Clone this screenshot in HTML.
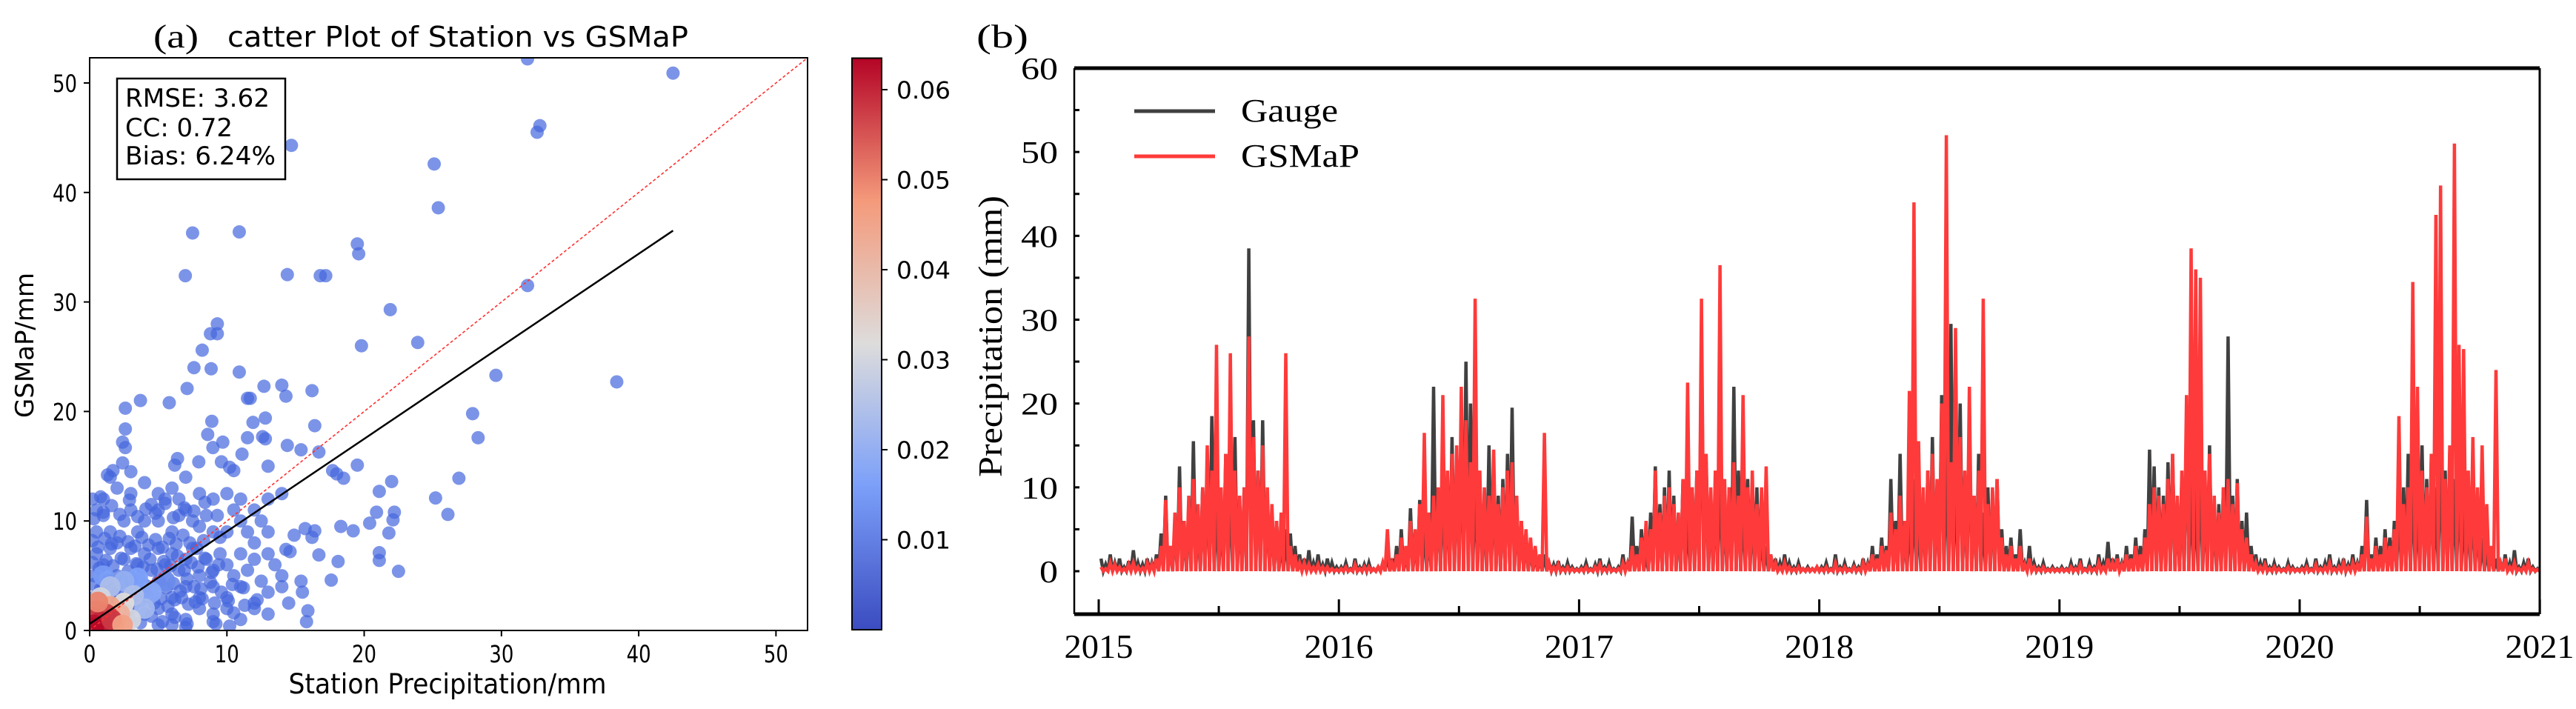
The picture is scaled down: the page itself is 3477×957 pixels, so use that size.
<!DOCTYPE html>
<html><head><meta charset="utf-8"><style>
html,body{margin:0;padding:0;background:#fff;}
svg{display:block;}
</style></head><body>
<svg id="fig" xmlns="http://www.w3.org/2000/svg" width="3477" height="957" viewBox="0 0 3477 957">
<defs>
<linearGradient id="cmap" x1="0" y1="1" x2="0" y2="0">
<stop offset="0" stop-color="#3b4cc0"/><stop offset="0.25" stop-color="#7b9ff9"/><stop offset="0.5" stop-color="#dddcdc"/><stop offset="0.75" stop-color="#f49a7b"/><stop offset="1" stop-color="#b40426"/>
</linearGradient>
<clipPath id="clipA"><rect x="121" y="78" width="969" height="773"/></clipPath>
<clipPath id="clipB"><rect x="1450" y="92" width="1978" height="737"/></clipPath>
</defs>
<rect width="3477" height="957" fill="#fff"/>
<g id="panelA"></g>
<g id="panelB"></g>
</svg>
<script>
// ---------- Panel (a) data ----------
const stationVals = [31.9,42.5,32.8,32.6,14.7,25.1,25.4,7.5,10.9,19.5,19.6,6.97,14.4,16.8,17.2,31.9,21.9,9.3,8.8,9.3,23.9,19.8,8.2,7.6,8.85,10.9,29.6,38.4,14.0,12.7,7.1,16.2,14.3,11.5,11.7,3.7,5.8,2.6,27.9,28.3,12.8,8.9,11.9,16.4,2.6,8.6,11.5,12.6,12.8,2.4,9.7,14.4,2.6,8.98,15.4,16.7,11.1,7.95,9.6,19.5,6.4,6.2,10.2,10.5,13.0,26.9,22.0,17.7,18.0,18.5,2.4,1.7,1.3,25.2,21.1,26.1,22.2,22.1,20.9,20.4,18.3,19.2,21.8,21.1,21.1,22.5,18.1,16.7,17.6,0.2,15.8,15.9,15.5,15.4,16.4,16.2,15.7,14.9,14.6,14.3,10.2,9.2,10.5,
0.5,1,1.5,2,2.5,3,3.5,4,4.5,5,5.5,6,6.5,7,7.5,8,8.5,9,9.5,10,10.5,11,11.5,12,12.5,13,
0.5,1,1.5,2,2.5,3,3.5,4,4.5,5,5.5,6,6.5,7,7.5,8,8.5,9,9.5,10,10.5,11,11.5,12,12.5,13,13.5,14,
1,2,3,4,5,6,7,8,9,10,11,12,13,14,14.5,3,4,5,6,7,8,9,10,11,12,13,5,7,9,6,
1,2,3,4,5,6,7,8,9,10,11,12,13,14,1.5,3,5,6.5,0.3,0.3,0.5,0.8,
0.2,0.6,1.1,1.6,2.2,2.8,3.3,3.8,4.3,4.8,5.3,5.8,6.3,6.8,7.3,7.8,8.3,
0.2,0.7,1.2,1.7,2.3,2.8,3.4,3.9,4.4,4.9,5.4,5.9,6.4,6.9,7.4,7.9,8.4,8.9,9.4,
0.3,0.8,1.3,1.9,2.4,3.1,3.6,4.1,4.6,5.1,5.6,6.1,6.6,7.1,7.6,8.1,8.8,9.6,10.4,11.2,
0.4,0.9,1.4,2.1,2.7,3.2,3.7,4.2,4.7,5.2,5.7,6.2,6.7,7.2,7.7,8.2,9.1,10.1,11.3,12.2,
0.3,1,1.6,2.2,2.9,3.5,4.1,4.8,5.5,6.1,6.9,7.6,8.4,9.3,
0.2,0.9,1.5,2.2,2.9,3.7,4.5,5.3,6.2,7.1];
const gsmapVals = [52.2,50.9,46.1,45.5,44.3,42.6,38.6,36.3,36.4,35.3,34.4,32.4,32.5,32.4,32.4,31.5,29.3,28.0,27.1,27.1,26.3,26.0,25.6,24.0,23.9,23.6,23.3,22.7,22.4,22.3,22.1,21.9,21.4,21.2,21.2,21.0,20.8,20.3,19.8,17.6,19.4,19.1,19.0,18.7,18.4,17.9,17.6,17.7,17.5,17.2,17.2,16.9,16.7,16.7,16.5,16.3,16.1,15.4,15.4,15.1,15.7,15.1,14.9,14.6,15.0,13.9,13.6,14.6,14.3,13.9,15.3,14.6,14.2,12.1,12.7,10.6,10.8,10.1,10.8,9.8,9.5,9.1,8.9,7.1,6.4,5.4,6.3,6.9,4.6,12.0,0.8,1.8,3.5,4.5,9.1,8.5,9.3,8.7,7.2,7.4,0.4,0.6,1.6,
9,10.5,9,8,10,11,9,10,11.5,10,12,9,10.5,11,10,9.5,10.5,9,8.5,9,11,10,9,8,10,9,
7,6,7.5,5,6.5,7.5,6,7,5.5,7.5,6,7,5.5,6.5,7.5,5,6.5,5.5,7,6,5,7,5.5,6.5,4.5,7,6,5,
4,3.5,4.5,3.5,4.5,3,4,3,4,3,4,2.5,3.5,4,2.5,2,1.5,2,1.5,1,2,1.5,2,1,2,1.5,0.5,0.3,0.8,0.5,
12,13,12.5,13.5,12.5,13,14,12.5,12,12.5,12,11,12,12.5,14,14.5,11,12,5,3,11,12.2,
8.2,7.6,8.4,7.9,8.6,8.1,7.7,8.5,7.8,8.3,7.6,8.4,7.9,8.7,8.0,7.5,8.2,
6.2,5.7,6.4,5.9,6.6,5.4,6.1,5.8,6.5,5.6,6.3,5.9,6.8,5.5,6.2,5.8,6.6,5.3,6.0,
4.2,3.8,4.6,3.9,4.4,3.6,4.8,4.1,3.7,4.5,3.9,4.3,3.6,4.7,4.0,3.8,4.4,3.5,4.2,3.9,
2.4,2.8,3.0,2.6,2.9,2.3,2.7,3.1,2.5,2.9,2.2,2.8,3.0,2.4,2.6,2.9,2.5,2.7,2.3,2.8,
10.2,10.8,11.4,10.6,11.9,10.4,11.1,10.7,11.6,10.3,11.2,10.9,11.7,10.5,
1.2,0.8,1.4,0.9,1.1,0.7,1.3,0.8,1.2,0.6];
// high-density points near origin (station, gsmap, density)
const denseStation = [5.5,1.0,3.5,4.5,2.5,4,3.2,1.5,0.8,3,2.5,2.2,1.5,1.8,0.5,1.2,0.2,1,0.8,0.3,0.3,1.6,2.4,0.6];
const denseGsmap   = [4.5,5.0,4.8,3.5,4.5,2,3.2,4,3,1,2.5,1.5,2.2,0.6,1.8,1.5,1.2,0.3,0.8,0.5,0.2,1.0,0.5,2.6];
const denseValue   = [0.012,0.015,0.016,0.018,0.02,0.022,0.024,0.024,0.03,0.03,0.032,0.042,0.045,0.05,0.052,0.056,0.058,0.06,0.06,0.062,0.063,0.058,0.046,0.05];
const statsLines = ["RMSE: 3.62","CC: 0.72","Bias: 6.24%"];
const axisTicksA = [0,10,20,30,40,50];
const cbarTicks = [0.01,0.02,0.03,0.04,0.05,0.06];
const fitLine = [0.6, 0.845]; // intercept, slope
const fitXmax = 42.5;

// ---------- Panel (b) data (weekly values) ----------
const years = [2015,2016,2017,2018,2019,2020];
const gauge2015=[1.5,0.8,2,1,1.5,0.5,1.2,2.5,1,0.8,1.5,1,2,4.5,9,3,6,12.5,5,8,15.5,6,10,12,18.5,9,7,14,11,16,8,10,38.5,18,12,18,9,7,6,4,5,4.5,3,2,1.5,2.5,1,2,0.8,1.5,1,0.5];
const gsmap2015=[0.5,0.3,1,0.8,0.5,0.3,0.8,1,0.5,0.4,1,0.8,1.5,3,8.5,3,7,10,6,9,11,8,10,15,12,27,10,14,26,12,9,10,28,16,12,15,10,8,6,7,26,3,2,1,1,0.8,0.5,0.8,0.5,0.5,0.3,0.2];
const gauge2016=[0.5,1,0.3,1.5,0.5,0.8,1,0.3,0.5,1,2,1.5,3,5,2,7.5,4,8.5,6,5,22,9,12,10,16,14,18,25,20,13,11,8,15,12,9,11,14,19.5,8,6,4,3,2,1.5,2,1,0.8,1.2,0.5,1,0.5,0.3];
const gsmap2016=[0.3,0.5,0.2,0.8,0.3,0.5,0.5,0.3,0.5,1,5,1,2,4,3,6,5,8,16.5,7,9,10,21,12,14,15,22,18,13,32.5,12,10,9,14.5,8,10,12,13,9,6,5,4,3,2,16.5,1,0.5,0.8,0.3,0.5,0.3,0.2];
const gauge2017=[0.5,1,0.3,0.8,1.5,0.5,1,0.3,0.5,2,1,6.5,3,5,2,7,12.5,8,10,12,9,6,11,8,10,12,28,13,9,10,14,8,10,22,12,9,11,8,10,5,3,2,1.5,1,2,1,0.5,1,0.3,0.5,0.3,0.5];
const gsmap2017=[0.3,0.5,0.2,0.5,0.8,0.3,0.5,0.2,0.3,1,1,3,2,4,6,5,12,7,9,10,8,7,11,22.5,10,12,32.5,14,10,12,36.5,11,10,13,9,21,10,12,8,10,12.5,2,1,0.5,1,0.5,0.3,0.5,0.3,0.3,0.3,0.5];
const gauge2018=[0.5,1,0.3,2,0.5,1,0.3,0.8,0.5,1.5,1,3,2,4,3,11,6,14,5,8,11,7,9,12,16,10,21,15,29.5,13,20,10,18,9,14,7,10,9,11,5,3,4,2,5,1,3,1,0.5,1,0.3,0.5,0.3];
const gsmap2018=[0.3,0.5,0.2,1,0.3,0.5,0.2,0.5,0.3,1,0.8,2,1.5,3,2.5,7,5,9,6,21.5,44,15.5,10,12,14,11,20,52,13,29,16,12,22,9,12,32.5,8,10,11,4,2,3,1.5,3,0.8,1.5,0.5,0.3,0.5,0.2,0.3,0.2];
const gauge2019=[0.5,0.3,1,0.5,1.5,0.3,1,0.5,2,1,3.5,1.5,2,1,3,2,4,3,5,14.5,12.5,10,9,13,14,8,11,18,12,10,13,9,15,7,8,10,28,9,11,6,7,3,2,1,1.5,0.5,1,0.5,0.3,1,0.5,0.3];
const gsmap2019=[0.3,0.2,0.5,0.3,0.8,0.2,0.5,0.3,1,0.5,1.5,1,1.5,0.8,2,1.5,3,2,4,8,10,9,8,11,14,9,12,21,38.5,36,35,12,14,9,7,10,11,8,10.5,5,4,2,1,0.5,0.8,0.3,0.5,0.3,0.2,0.5,0.3,0.2];
const gauge2020=[0.5,1,0.3,1.5,0.5,1,2,0.5,1,1.5,0.8,2,1,3,8.5,2,4,3,5,4,6,9,10,14,12,9,15,11,13,10,17,12,14,11,13,9,8,10,7,4,3,2.5,1.5,1,2,1,2.5,0.5,1,1.5,0.5,0.3];
const gsmap2020=[0.3,0.5,0.2,0.8,0.3,0.5,1,0.3,0.5,1,0.5,1,0.8,2,6.5,1.5,3,2,4,3,5,18.5,8,10,34.5,22,12,10,14,42.5,46,11,15,51,27,26.5,12,16,10,15,8,3,24,1,1.5,0.5,1,0.3,0.5,1,0.3,0.2];
const yTicksB = [0,10,20,30,40,50,60];
const xTicksB = [2015,2016,2017,2018,2019,2020,2021];
const legendLabels = ["Gauge","GSMaP"];

const NS="http://www.w3.org/2000/svg";
function mk(tag,attrs,parent){const e=document.createElementNS(NS,tag);for(const k in attrs)e.setAttribute(k,attrs[k]);if(parent)parent.appendChild(e);return e;}
function txt(parent,s,attrs){const t=mk('text',attrs,parent);t.textContent=s;return t;}

const cstops=[[0,[59,76,192]],[0.25,[123,159,249]],[0.5,[221,220,220]],[0.75,[244,154,123]],[1,[180,4,38]]];
function cw(t){t=Math.max(0,Math.min(1,t));for(let i=1;i<cstops.length;i++){if(t<=cstops[i][0]){const a=cstops[i-1],b=cstops[i];const f=(t-a[0])/(b[0]-a[0]);return 'rgb('+a[1].map((v,j)=>Math.round(v+(b[1][j]-v)*f)).join(',')+')';}}return 'rgb(180,4,38)';}

// ---------- Panel A ----------
const A=document.getElementById('panelA');
const ax0=121, ax1=1090, ay0=851, ay1=78, amax=52.3;
const sx=v=>ax0+(v/amax)*(ax1-ax0);
const sy=v=>ay0-(v/amax)*(ay0-ay1);
const gA=mk('g',{'clip-path':'url(#clipA)'},A);


for(let i=0;i<stationVals.length;i++){
  const c=mk('circle',{cx:sx(stationVals[i]),cy:sy(gsmapVals[i]),r:9,fill:'#4466dd','fill-opacity':0.7},gA);
  
  
}
for(let i=0;i<denseStation.length;i++){
  const c=mk('circle',{cx:sx(denseStation[i]),cy:sy(denseGsmap[i]),r:14,fill:cw(denseValue[i]/0.0635),'fill-opacity':0.95},gA);
  
  
}
const one=mk('line',{x1:sx(0),y1:sy(0),x2:sx(amax),y2:sy(amax),stroke:'#ff3030','stroke-width':1.6,'stroke-dasharray':'4,3'},gA);


const fit=mk('line',{x1:sx(0),y1:sy(fitLine[0]),x2:sx(fitXmax),y2:sy(fitLine[0]+fitLine[1]*fitXmax),stroke:'#000','stroke-width':2.5},gA);


const frA=mk('rect',{x:ax0,y:ay1,width:ax1-ax0,height:ay0-ay1,fill:'none',stroke:'#000','stroke-width':2},A);


axisTicksA.forEach(v=>{
  mk('line',{x1:sx(v),y1:ay0,x2:sx(v),y2:ay0+8,stroke:'#000','stroke-width':2},A);
  const t=txt(A,String(v),{x:sx(v),y:894,'font-family':'DejaVu Sans, sans-serif','font-size':32,'text-anchor':'middle',textLength:v?33:17,lengthAdjust:'spacingAndGlyphs'});
  
  
  mk('line',{x1:ax0-8,y1:sy(v),x2:ax0,y2:sy(v),stroke:'#000','stroke-width':2},A);
  const u=txt(A,String(v),{x:104,y:sy(v)+12,'font-family':'DejaVu Sans, sans-serif','font-size':32,'text-anchor':'end',textLength:v?33:17,lengthAdjust:'spacingAndGlyphs'});
  
  
});
const sb=mk('rect',{x:158,y:106,width:227,height:136,fill:'#fff',stroke:'#000','stroke-width':2.5},A);


const sLen=[195,145,203], sBase=[144,184,222];
statsLines.forEach((s,i)=>{const t=txt(A,s,{x:169,y:sBase[i],'font-family':'DejaVu Sans, sans-serif','font-size':34,textLength:sLen[i],lengthAdjust:'spacingAndGlyphs'});
  
  });
let t=txt(A,'(a)',{x:207,y:64,'font-family':'Liberation Serif, serif','font-size':44,textLength:61,lengthAdjust:'spacingAndGlyphs'});


t=txt(A,'catter Plot of Station vs GSMaP',{x:307,y:63,'font-family':'DejaVu Sans, sans-serif','font-size':38,textLength:622,lengthAdjust:'spacingAndGlyphs'});


t=txt(A,'Station Precipitation/mm',{x:604,y:936,'font-family':'DejaVu Sans, sans-serif','font-size':37,'text-anchor':'middle',textLength:429,lengthAdjust:'spacingAndGlyphs'});


t=txt(A,'GSMaP/mm',{x:0,y:0,'font-family':'DejaVu Sans, sans-serif','font-size':34,'text-anchor':'middle',textLength:196,lengthAdjust:'spacingAndGlyphs',transform:'translate(45,466) rotate(-90)'});


const cb=mk('rect',{x:1150,y:78.5,width:40,height:771.5,fill:'url(#cmap)',stroke:'#000','stroke-width':2},A);


const cby=v=>850-(v/0.0635)*(850-78.5);
cbarTicks.forEach(v=>{
  mk('line',{x1:1190,y1:cby(v),x2:1198,y2:cby(v),stroke:'#000','stroke-width':2},A);
  const l=txt(A,v.toFixed(2),{x:1210,y:cby(v)+12,'font-family':'DejaVu Sans, sans-serif','font-size':32,textLength:73,lengthAdjust:'spacingAndGlyphs'});
  
  
});

// ---------- Panel B ----------
const B=document.getElementById('panelB');
const bx0=1450,bx1=3428,by0=829,by1=92;
const X=yr=>1483+(yr-2015)*324.2;
const Y=v=>771-v*11.317;
function seriesPath(arrs){
  let d='';
  arrs.forEach((arr,k)=>{arr.forEach((v,i)=>{
    const xp=X(years[k]+(i+0.5)/52), xt=X(years[k]+(i+1)/52);
    d+=(d?'L':'M')+xp.toFixed(1)+','+Y(v).toFixed(1)+'L'+xt.toFixed(1)+','+Y(0).toFixed(1);
  });});
  return d;
}
const gB=mk('g',{'clip-path':'url(#clipB)'},B);
const gp=mk('path',{d:seriesPath([gauge2015,gauge2016,gauge2017,gauge2018,gauge2019,gauge2020]),fill:'none',stroke:'#404040','stroke-width':4.5,'stroke-linejoin':'miter'},gB);


const sp=mk('path',{d:seriesPath([gsmap2015,gsmap2016,gsmap2017,gsmap2018,gsmap2019,gsmap2020]),fill:'none',stroke:'#ff3a3a','stroke-width':4.5,'stroke-linejoin':'miter'},gB);


mk('line',{x1:bx0,y1:by1,x2:bx1,y2:by1,stroke:'#000','stroke-width':5},B);
mk('line',{x1:bx0,y1:by0,x2:bx1,y2:by0,stroke:'#000','stroke-width':5},B);
mk('line',{x1:bx0,y1:by1,x2:bx0,y2:by0,stroke:'#000','stroke-width':2.5},B);
mk('line',{x1:bx1,y1:by1,x2:bx1,y2:by0,stroke:'#000','stroke-width':3},B);
for(let v=-5;v<=60;v+=5){ if(v>-5&&v<60) mk('line',{x1:bx0,y1:Y(v),x2:bx0+7,y2:Y(v),stroke:'#000','stroke-width':3},B); }
yTicksB.forEach(v=>{
  const l=txt(B,String(v),{x:1428,y:Y(v)+15,'font-family':'Liberation Serif, serif','font-size':42,'text-anchor':'end',textLength:v?50:25,lengthAdjust:'spacingAndGlyphs'});
  
  
});
xTicksB.forEach((yr,i)=>{
  mk('line',{x1:X(yr),y1:by0,x2:X(yr),y2:by0-20,stroke:'#000','stroke-width':3},B);
  if(i<xTicksB.length-1) mk('line',{x1:X(yr+0.5),y1:by0,x2:X(yr+0.5),y2:by0-11,stroke:'#000','stroke-width':3},B);
  const l=txt(B,String(yr),{x:Math.min(X(yr),3430),y:888,'font-family':'Liberation Serif, serif','font-size':45,'text-anchor':'middle',textLength:93,lengthAdjust:'spacingAndGlyphs'});
  
  
});
t=txt(B,'(b)',{x:1318,y:64,'font-family':'Liberation Serif, serif','font-size':44,textLength:70,lengthAdjust:'spacingAndGlyphs'});


t=txt(B,'Precipitation (mm)',{x:0,y:0,'font-family':'Liberation Serif, serif','font-size':46,'text-anchor':'middle',textLength:380,lengthAdjust:'spacingAndGlyphs',transform:'translate(1352,454) rotate(-90)'});


const legColors=['#404040','#ff3a3a'], legY=[150,211], legLen=[131,160];
legendLabels.forEach((s,i)=>{
  const g=mk('g',{},B);
  
  
  mk('line',{x1:1531,y1:legY[i],x2:1640,y2:legY[i],stroke:legColors[i],'stroke-width':5},g);
  txt(g,s,{x:1675,y:legY[i]+14,'font-family':'Liberation Serif, serif','font-size':44,textLength:legLen[i],lengthAdjust:'spacingAndGlyphs'});
});
</script>
</body></html>
